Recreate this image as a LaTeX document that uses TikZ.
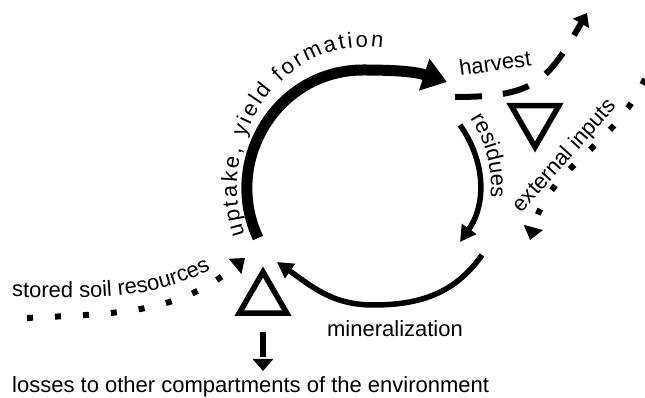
\documentclass[tikz,border=0pt]{standalone}
\usepackage{fontspec}
\setmainfont{Liberation Sans}
\usetikzlibrary{arrows.meta,shapes.geometric,decorations.text}
\newcommand\lblfont{\fontsize{22}{26}\selectfont}
\tikzset{
  uptake/.style={line width=11pt, -{Triangle[length=24pt,width=32pt]}},
  turnover/.style={line width=5.5pt, -{Triangle[length=16pt,width=17pt]}},
  harvestflow/.style={line width=6pt, dash pattern=on 27pt off 21pt, -{Triangle[length=12pt,width=18pt]}},
  dotflow/.style={line width=6pt, dash pattern=on 6pt off 22pt, -{Triangle[length=13pt,width=19pt]}},
  lossflow/.style={line width=6pt, dash pattern=on 25pt off 7pt, shorten <=16pt, -{Triangle[length=12pt,width=20pt]}},
  textpath/.style={decorate, decoration={text along path, text={|\lblfont|#1}}}
}
\begin{document}
\begin{tikzpicture}[x=1pt,y=1pt]

      \useasboundingbox (0,0) rectangle (645,398);

      \coordinate (upt-s)   at (258,160);
      \coordinate (upt-top) at (363,328);
      \coordinate (upt-e)   at (447,316);
      \coordinate (res-s)   at (460,273);
      \coordinate (res-e)   at (460,156);
      \coordinate (min-s)   at (482,143);
      \coordinate (min-b)   at (373,93);
      \coordinate (min-e)   at (277,136);
      \coordinate (hv-s)    at (455,301);
      \coordinate (hv-e)    at (587,385);
      \coordinate (ext-s)   at (645,319);
      \coordinate (ext-e)   at (530,158);
      \coordinate (soil-s)  at (27,80);
      \coordinate (soil-e)  at (245,140);
      \coordinate (loss)    at (263,27);
      \coordinate (upt-t)   at (244.7,163.1);
      \coordinate (res-t)   at (470.7,279.6);
      \coordinate (soil-t1) at (12,101);
      \coordinate (soil-t2) at (220,133);
      \coordinate (ext-t1)  at (516,178.5);
      \coordinate (ext-t2)  at (623,297.5);

      \begin{scope}[every node/.style={regular polygon, regular polygon sides=3, draw,
          line width=5.5pt, inner sep=0pt, minimum size=55pt}]
        \node (sink)  at (263,98.5)  {};
        \node (input) at (535,278.5) [shape border rotate=180] {};
      \end{scope}

      \draw[uptake] (upt-s) to[out=115, in=180, looseness=1.1] (upt-top)
        to[out=0, in=162] (upt-e);
      \draw[turnover] (min-s) to[out=-125, in=0] (min-b) to[out=180, in=-35] (min-e);

      \begin{scope}[every edge/.style={draw}]
        \path (res-s)      edge[turnover, out=-55, in=55] (res-e);
        \path (hv-s)       edge[harvestflow, out=0, in=-120, looseness=1.3] (hv-e);
        \path (ext-s)      edge[dotflow, out=-115, in=75] (ext-e);
        \path (soil-s)     edge[dotflow, out=3, in=-140] (soil-e);
        \path (sink.south) edge[lossflow] (loss);
      \end{scope}

      \begin{scope}[every node/.style={font=\lblfont, inner sep=0pt}]
        \node (harvest) at (495,335) [rotate=8] {harvest};
        \node (mineral) at (395,69) {mineralization};
        \node (losses)  at (12,5) [anchor=base west] {losses to other compartments of the environment};
      \end{scope}

      \path[decorate, decoration={text along path, text align={fit to path},
          text={|\lblfont|uptake, yield formation}}]
        (upt-t) arc[start angle=200, end angle=82, x radius=128pt, y radius=140pt];
      \path[textpath=residues] (res-t) arc[start angle=33, end angle=-8, radius=126pt];
      \path[textpath=stored soil resources] (soil-t1) to[out=0, in=-152] (soil-t2);
      \path[textpath=external inputs, decoration={text align=center}] (ext-t1) -- (ext-t2);

    \end{tikzpicture}
\end{document}
